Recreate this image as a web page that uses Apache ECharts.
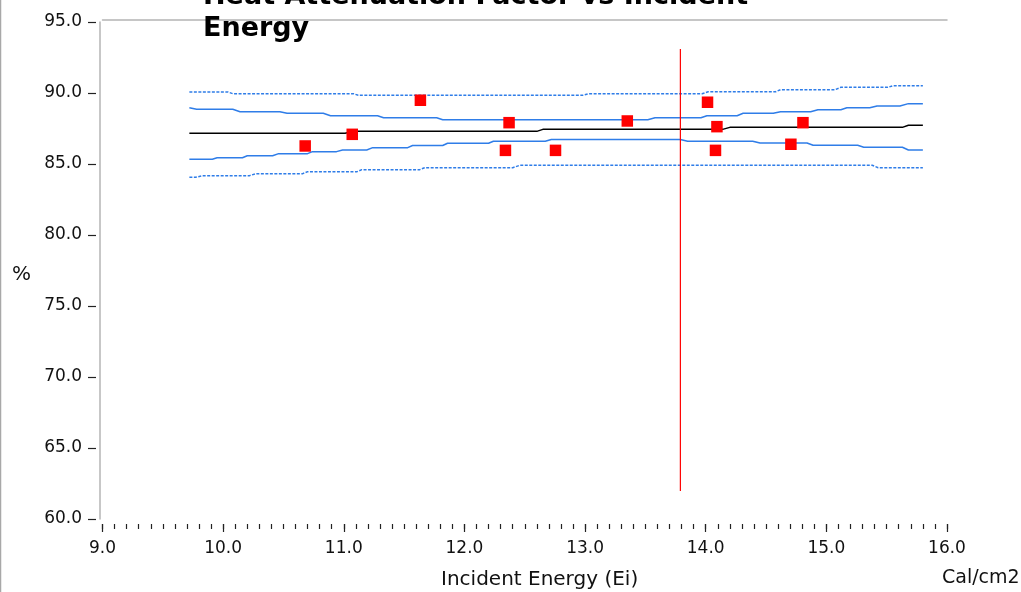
<!DOCTYPE html>
<html>
<head>
<meta charset="utf-8">
<script src="https://cdn.jsdelivr.net/npm/echarts@6/dist/echarts.min.js"></script>
<style>
html,body{margin:0;padding:0;background:#fff;}
#chart{width:1021px;height:592px;}
</style>
</head>
<body>
<div id="chart"></div>
<script>
// ---- data ----
var titleText = 'Heat Attenuation Factor vs Incident\nEnergy';
var xAxisName = 'Incident Energy (Ei)';
var xUnit = 'Cal/cm2';
var yAxisName = '%';
var xMin = 9, xMax = 16, xStep = 1, xMinorStep = 0.1;
var yMin = 60, yMax = 95, yStep = 5;

// observed points [incident energy, %]
var observed = [
  [10.68, 86.27], [11.07, 87.09], [11.635, 89.49], [12.37, 87.91],
  [12.34, 85.96], [12.755, 85.96], [13.35, 88.03], [14.015, 89.35],
  [14.093, 87.63], [14.081, 85.96], [14.706, 86.39], [14.806, 87.91]
];

// fitted line
var fitLine = [
  [9.72, 87.16], [11.01, 87.16], [11.09, 87.30], [12.60, 87.30], [12.65, 87.44],
  [14.14, 87.44], [14.20, 87.58], [15.63, 87.58], [15.68, 87.73], [15.80, 87.73]
];

// inner (solid blue) band
var innerUpper = [
  [9.72, 88.96], [9.78, 88.85], [10.08, 88.85], [10.14, 88.68], [10.47, 88.68],
  [10.53, 88.57], [10.83, 88.57], [10.89, 88.40], [11.28, 88.40], [11.33, 88.26],
  [11.77, 88.26], [11.82, 88.12], [13.52, 88.12], [13.58, 88.26], [13.96, 88.26],
  [14.01, 88.40], [14.26, 88.40], [14.31, 88.57], [14.56, 88.57], [14.62, 88.68],
  [14.87, 88.68], [14.93, 88.82], [15.12, 88.82], [15.17, 88.96], [15.36, 88.96],
  [15.42, 89.08], [15.61, 89.08], [15.68, 89.25], [15.80, 89.25]
];
var innerLower = [
  [9.72, 85.33], [9.91, 85.33], [9.95, 85.44], [10.16, 85.44], [10.20, 85.58],
  [10.41, 85.58], [10.46, 85.73], [10.70, 85.73], [10.74, 85.87], [10.94, 85.87],
  [10.99, 85.99], [11.19, 85.99], [11.24, 86.15], [11.53, 86.15], [11.57, 86.30],
  [11.82, 86.30], [11.86, 86.46], [12.20, 86.46], [12.24, 86.60], [12.67, 86.60],
  [12.72, 86.73], [13.79, 86.73], [13.85, 86.60], [14.39, 86.60], [14.45, 86.48],
  [14.84, 86.48], [14.89, 86.32], [15.26, 86.32], [15.31, 86.18], [15.63, 86.18],
  [15.68, 85.99], [15.80, 85.99]
];

// outer (dashed blue) band
var outerUpper = [
  [9.72, 90.07], [10.04, 90.07], [10.08, 89.95], [11.08, 89.95], [11.12, 89.84],
  [12.98, 89.84], [13.03, 89.95], [13.97, 89.95], [14.02, 90.09], [14.58, 90.09],
  [14.62, 90.23], [15.07, 90.23], [15.12, 90.40], [15.51, 90.40], [15.55, 90.51],
  [15.80, 90.51]
];
var outerLower = [
  [9.72, 84.06], [9.77, 84.06], [9.83, 84.18], [10.22, 84.18], [10.27, 84.32],
  [10.66, 84.32], [10.70, 84.46], [11.11, 84.46], [11.15, 84.60], [11.63, 84.60],
  [11.67, 84.74], [12.40, 84.74], [12.46, 84.91], [15.38, 84.91], [15.43, 84.74],
  [15.80, 84.74]
];

// red reference line
var refLine = [[13.79, 61.97], [13.79, 93.10]];

// ---- chart ----
var chart = echarts.init(document.getElementById('chart'), null, {renderer: 'canvas'});
var BLUE = '#2f7de8';
var TICK = '#222222';
var axisFont = 'DejaVu Sans';

function lineSeries(data, color, dashed, width) {
  return {
    type: 'line', data: data, symbol: 'none', silent: true, animation: false,
    xAxisIndex: 0, yAxisIndex: 0,
    lineStyle: {color: color, width: width || 1.5, type: dashed ? [3, 1.5] : 'solid'},
    z: 3
  };
}

var option = {
  animation: false,
  backgroundColor: '#ffffff',
  grid: {left: 102.5, right: 74, top: 22, bottom: 73, containLabel: false},
  xAxis: [
    {
      type: 'value', min: xMin, max: xMax, interval: xStep, position: 'bottom', offset: 5,
      axisLine: {show: false},
      axisTick: {show: true, length: 8, lineStyle: {color: TICK, width: 1.2}},
      splitLine: {show: false},
      axisLabel: {
        margin: 16, color: '#111', fontFamily: axisFont, fontSize: 17,
        formatter: function (v) { return v.toFixed(1); }
      }
    },
    {
      type: 'value', min: xMin, max: xMax, interval: xStep, position: 'top', offset: 2,
      axisLine: {show: true, lineStyle: {color: '#b4b4b4', width: 1.5}},
      axisTick: {show: false}, axisLabel: {show: false}, splitLine: {show: false}
    },
    {
      type: 'value', min: xMin, max: xMax, interval: xMinorStep, position: 'bottom', offset: 5,
      axisLine: {show: false},
      axisTick: {show: true, length: 5, lineStyle: {color: TICK, width: 1.2}},
      axisLabel: {show: false}, splitLine: {show: false}
    }
  ],
  yAxis: [
    {
      type: 'value', min: yMin, max: yMax, interval: yStep, position: 'left', offset: 2.5,
      axisLine: {show: true, lineStyle: {color: '#b4b4b4', width: 1.5}},
      axisTick: {show: false},
      splitLine: {show: false},
      axisLabel: {
        margin: 18, color: '#111', fontFamily: axisFont, fontSize: 17,
        formatter: function (v) { return v.toFixed(1); }
      }
    },
    {
      type: 'value', min: yMin, max: yMax, interval: yStep, position: 'left', offset: 6.5,
      axisLine: {show: false},
      axisTick: {show: true, length: 8, lineStyle: {color: TICK, width: 1.2}},
      axisLabel: {show: false}, splitLine: {show: false}
    }
  ],
  series: [
    lineSeries(outerUpper, BLUE, true),
    lineSeries(outerLower, BLUE, true),
    lineSeries(innerUpper, BLUE, false),
    lineSeries(innerLower, BLUE, false),
    lineSeries(fitLine, '#000000', false, 1.5),
    lineSeries(refLine, '#ff0000', false, 1.2),
    {
      type: 'scatter', data: observed, symbol: 'rect', symbolSize: 11.5,
      itemStyle: {color: '#ff0000', opacity: 1}, z: 5, silent: true
    }
  ],
  graphic: [
    {
      type: 'line', x: 0, y: 0, silent: true,
      shape: {x1: 0.5, y1: 0, x2: 0.5, y2: 592},
      style: {stroke: '#a8a8a8', lineWidth: 1.5}
    },
    {
      type: 'text', x: 203, y: -19, silent: true, z: 10,
      style: {
        text: titleText, fill: '#000', font: 'bold 27px "DejaVu Sans"',
        lineHeight: 32
      }
    },
    {
      type: 'text', x: 12, y: 265, silent: true,
      style: {text: yAxisName, fill: '#111', font: '20px "DejaVu Sans"'}
    },
    {
      type: 'text', x: 441, y: 570, silent: true,
      style: {text: xAxisName, fill: '#111', font: '20px "DejaVu Sans"'}
    },
    {
      type: 'text', x: 942, y: 569, silent: true,
      style: {text: xUnit, fill: '#111', font: '19px "DejaVu Sans"'}
    }
  ]
};
chart.setOption(option);
</script>
</body>
</html>
